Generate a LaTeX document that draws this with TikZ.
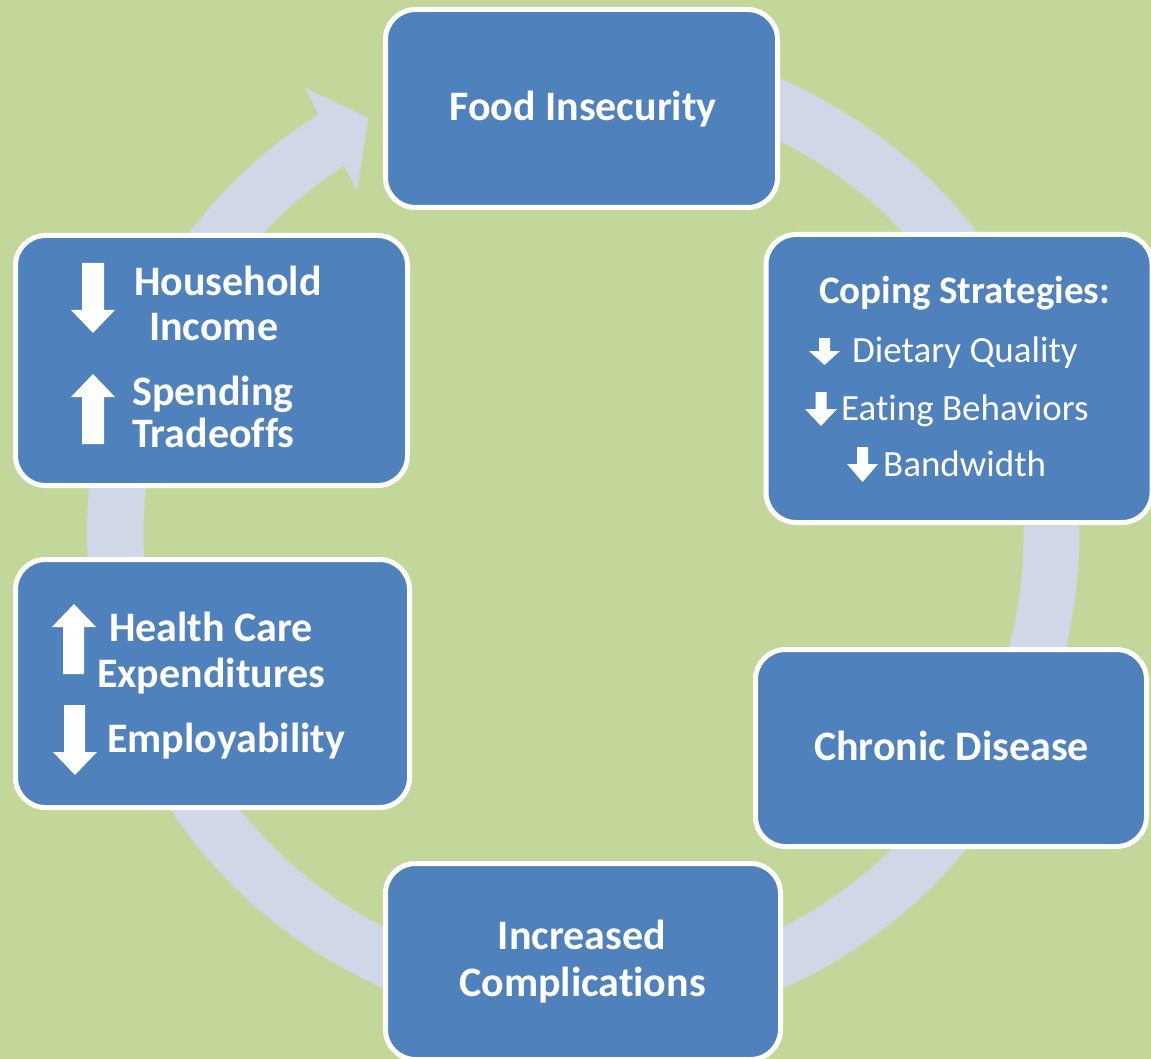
\documentclass[tikz,border=0pt]{standalone}
\usepackage{fontspec}
\setmainfont{Carlito}[Ligatures=NoCommon]
\begin{document}
\definecolor{bggreen}{HTML}{C4D79B}
\definecolor{boxblue}{HTML}{4F81BD}
\definecolor{ringblue}{HTML}{D0D8E8}
\begin{tikzpicture}[x=1pt,y=-1pt,
  stage/.style={draw=white, line width=5pt, fill=boxblue, rounded corners=30pt,
                inner sep=0pt, outer sep=0pt},
  bigtxt/.style={text=white, inner sep=0pt, font=\fontsize{42}{45}\selectfont\bfseries},
  headtxt/.style={text=white, inner sep=0pt, font=\fontsize{39}{42}\selectfont\bfseries},
  itemtxt/.style={text=white, inner sep=0pt, font=\fontsize{37}{40}\selectfont},
  arrowfill/.style={fill=white}]
% canvas
\fill[bggreen] (0,0) rectangle (1151,1059);
\useasboundingbox (0,0) rectangle (1151,1059);

% circular cycle arrow behind the stages
\begin{scope}[shift={(583,534)}, yscale=-1]
  \coordinate (tip) at (-242.7:468);
  \fill[ringblue] (100:496) arc[start angle=100, end angle=-237.75, radius=496]
    -- (-238.1:525.5) -- (tip) -- (-236.7:411.6) -- (-237.0:439)
    arc[start angle=-237.0, end angle=100, radius=440] -- cycle;
\end{scope}

% stages
\node[stage, minimum width=392pt, minimum height=198pt] (food) at (581.5,108.5) {};
\node[stage, minimum width=386pt, minimum height=288pt] (coping) at (959,378.5) {};
\node[stage, minimum width=391pt, minimum height=197pt] (chronic) at (951,748) {};
\node[stage, minimum width=395pt, minimum height=196pt] (compl) at (583,961.5) {};
\node[stage, minimum width=394pt, minimum height=248pt] (health) at (212.5,683.5) {};
\node[stage, minimum width=392pt, minimum height=250pt] (house) at (211.5,360.5) {};

% stage texts
\node[bigtxt, anchor=base] (foodT) at (583,121) {Food Insecurity};
\node[bigtxt, anchor=base] (chronicT) at (951.5,760) {Chronic Disease};
\node[bigtxt, anchor=base] (complA) at (582,949) {Increased};
\node[bigtxt, anchor=base] (complB) at (582.5,996) {Complications};

\node[headtxt, anchor=base] (copingH) at (964.5,304) {Coping Strategies:};
\node[itemtxt, anchor=base west] (copingA) at (852,362) {Dietary Quality};
\node[itemtxt, anchor=base west] (copingB) at (841,420) {Eating Behaviors};
\node[itemtxt, anchor=base west] (copingC) at (883,476) {Bandwidth};

\node[bigtxt, anchor=base west] (houseA) at (134,296) {Household};
\node[bigtxt, anchor=base west] (houseB) at (149,341) {Income};
\node[bigtxt, anchor=base west] (houseC) at (132,405) {Spending};
\node[bigtxt, anchor=base west] (houseD) at (132,447) {Tradeoffs};

\node[bigtxt, anchor=base west] (healthA) at (109,641) {Health Care};
\node[bigtxt, anchor=base west] (healthB) at (97,687) {Expenditures};
\node[bigtxt, anchor=base west] (healthC) at (107,752) {Employability};

% block arrows: household box
\fill[arrowfill] (82,263) -- (104,263) -- (104,310) -- (115,310) -- (93,333)
  -- (71,310) -- (82,310) -- cycle;
\fill[arrowfill] (82,444) -- (104,444) -- (104,397) -- (115,397) -- (93,374)
  -- (71,397) -- (82,397) -- cycle;
% block arrows: health care box
\fill[arrowfill] (63,674) -- (84,674) -- (84,627) -- (96,627) -- (74,604)
  -- (52,627) -- (63,627) -- cycle;
\fill[arrowfill] (64,705) -- (85,705) -- (85,752) -- (97,752) -- (75,775)
  -- (53,752) -- (64,752) -- cycle;
% small arrows: coping box
\fill[arrowfill] (819,338) -- (830,338) -- (830,351) -- (840,351) -- (824.5,365)
  -- (809,351) -- (819,351) -- cycle;
\fill[arrowfill] (815.5,392) -- (826.5,392) -- (826.5,409) -- (837,409) -- (821,426)
  -- (805,409) -- (815.5,409) -- cycle;
\fill[arrowfill] (857,447) -- (868,447) -- (868,464) -- (878,464) -- (862.5,482)
  -- (847,464) -- (857,464) -- cycle;
\end{tikzpicture}
\end{document}
